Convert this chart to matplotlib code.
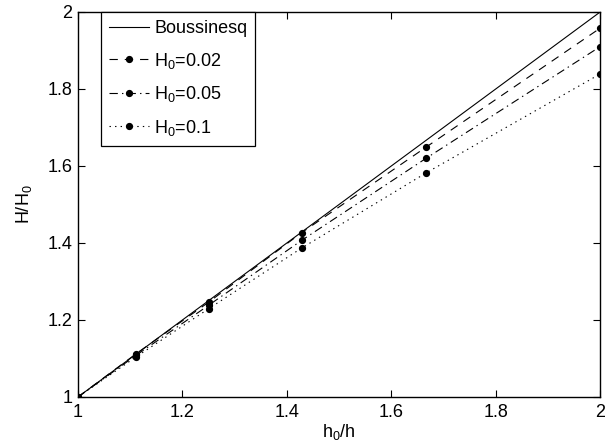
import matplotlib
matplotlib.use("Agg")
import matplotlib.pyplot as plt

plt.rcParams['font.family'] = ['Liberation Sans', 'DejaVu Sans']
plt.rcParams['mathtext.default'] = 'regular'
plt.rcParams['lines.scale_dashes'] = False
plt.rcParams['font.size'] = 13

# depth ratio h0/h
x = [1.0, 1/0.9, 1/0.8, 1/0.7, 1/0.6, 1/0.5]
boussinesq = x
h002 = [1.0, 1.112, 1.246, 1.427, 1.649, 1.958]
h005 = [1.0, 1.108, 1.238, 1.407, 1.620, 1.910]
h010 = [1.0, 1.104, 1.229, 1.387, 1.582, 1.839]
labels = ['Boussinesq', 'H$_0$=0.02', 'H$_0$=0.05', 'H$_0$=0.1']
xticks = [1, 1.2, 1.4, 1.6, 1.8, 2]
yticks = [1, 1.2, 1.4, 1.6, 1.8, 2]

fig = plt.figure(figsize=(6.05, 4.44), dpi=100)
ax = fig.add_axes([0.129, 0.106, 0.863, 0.867])

lw = 0.8
ms = 4.2
ax.plot(x, boussinesq, color='k', lw=lw, ls='-', label=labels[0])
ax.plot(x, h002, color='k', lw=lw, ls=(0, (6, 5)), marker='o', ms=ms, label=labels[1])
ax.plot(x, h005, color='k', lw=lw, ls=(0, (6, 3, 1, 3)), marker='o', ms=ms, label=labels[2])
ax.plot(x, h010, color='k', lw=lw, ls=(0, (1, 3)), marker='o', ms=ms, label=labels[3])

ax.set_xlim(1, 2)
ax.set_ylim(1, 2)
ax.set_xticks(xticks)
ax.set_yticks(yticks)
ax.set_xticklabels(['%g' % t for t in xticks])
ax.set_yticklabels(['%g' % t for t in yticks])
ax.tick_params(direction='in', top=True, right=True, length=5, width=0.8,
               labelsize=13, pad=5)
ax.tick_params(axis='y', pad=4)
for s in ax.spines.values():
    s.set_linewidth(1.0)

ax.set_xlabel('h$_0$/h', fontsize=13, labelpad=1)
ax.set_ylabel('H/H$_0$', fontsize=13, labelpad=10)

leg = ax.legend(loc='upper left', bbox_to_anchor=(0.0435, 1.0), fancybox=False,
                edgecolor='k', framealpha=1, numpoints=1, handlelength=2.2,
                fontsize=13, borderaxespad=0.0, labelspacing=0.75,
                handletextpad=0.3, borderpad=0.45)
leg.get_frame().set_linewidth(0.9)

fig.savefig('out.png', dpi=100)
